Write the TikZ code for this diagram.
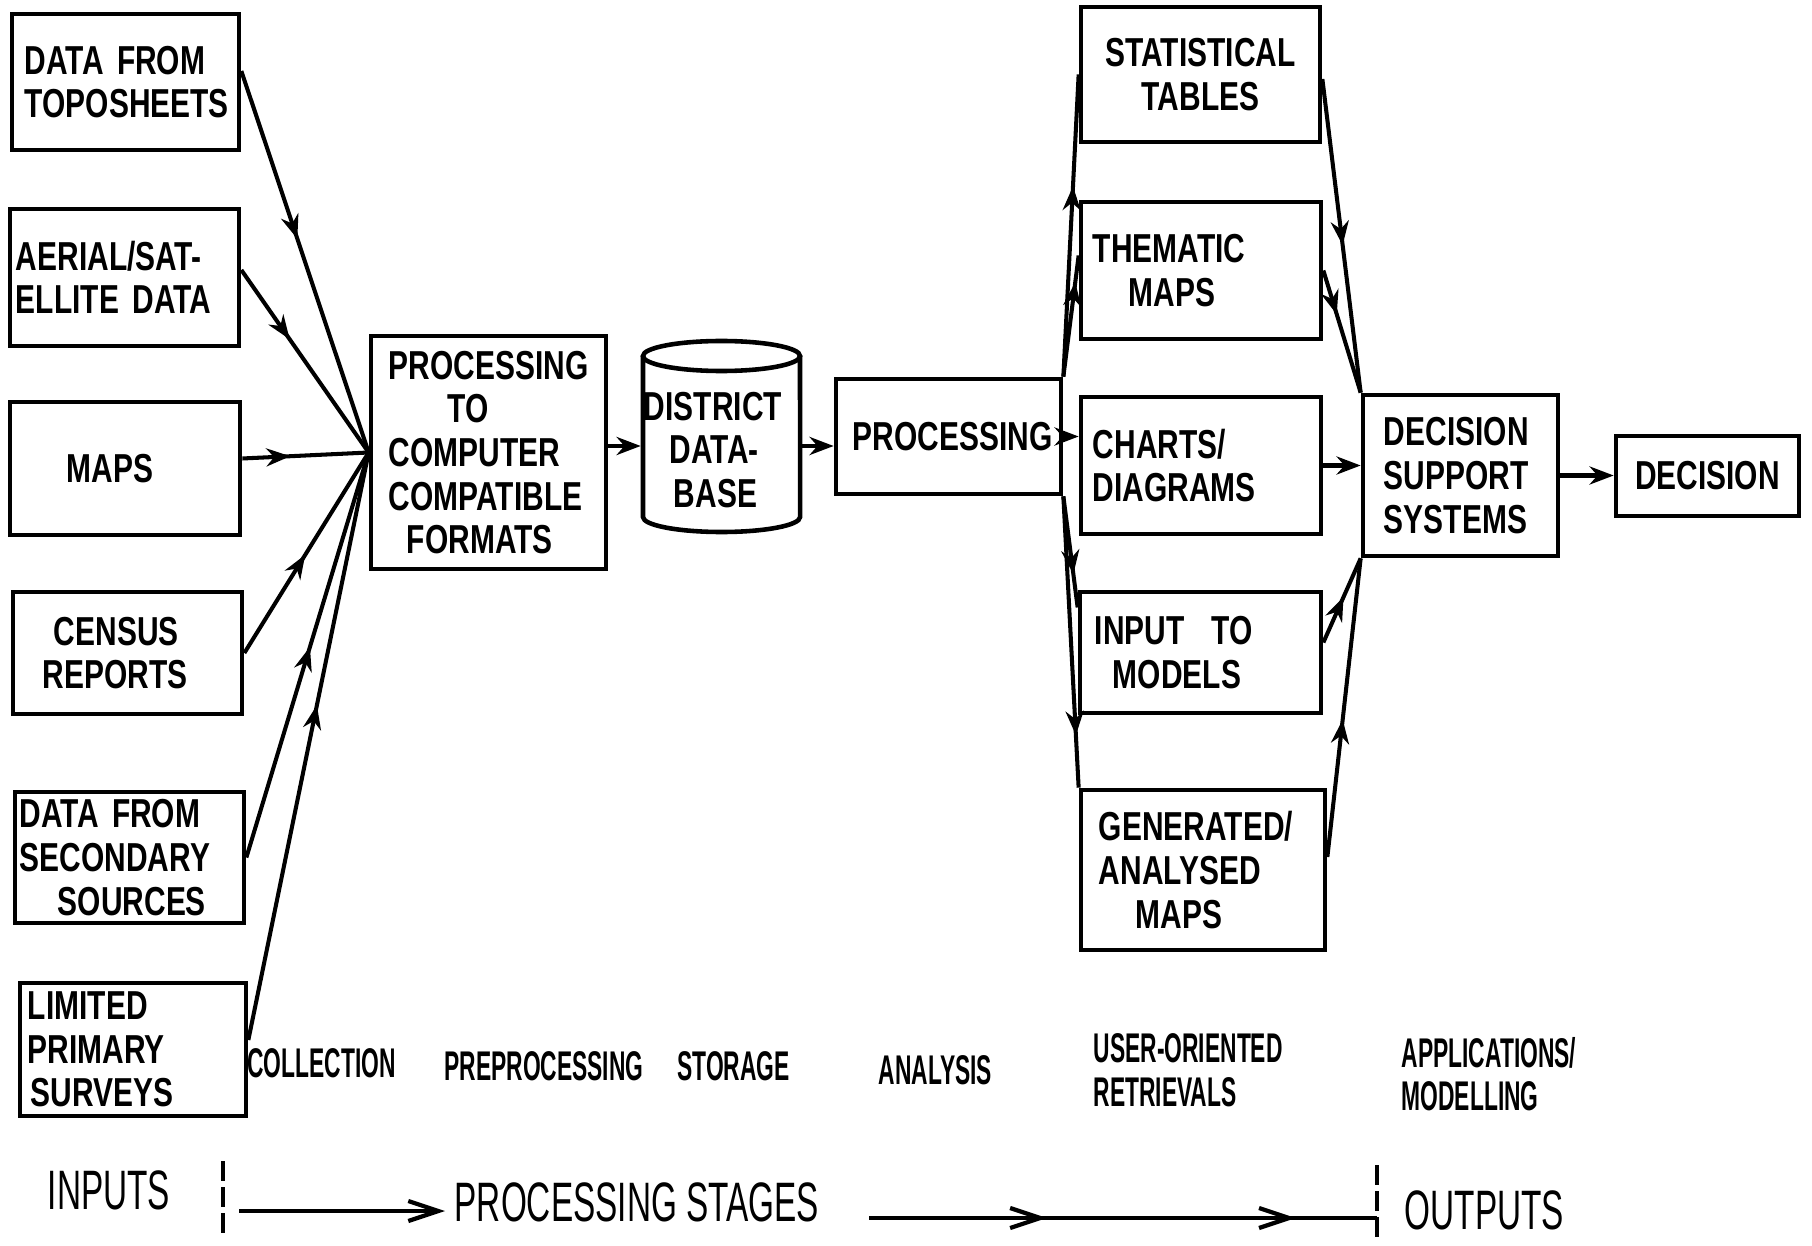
\documentclass[tikz,border=0pt]{standalone}
\usepackage{fontspec}
\setmainfont{Liberation Sans}[FakeStretch=0.74]
\newfontfamily\stagefont{Liberation Sans}[FakeStretch=0.55]
\newfontfamily\bigfont{Liberation Sans}[FakeStretch=0.6]
\usetikzlibrary{arrows.meta,decorations.markings}
\hyphenpenalty=10000
\exhyphenpenalty=10000
\begin{document}
\begin{tikzpicture}[x=0.01cm,y=-0.01cm,
  >={Stealth[length=2.4mm,width=1.8mm]},
  box/.style={draw, line width=1.3pt, inner xsep=0pt, inner ysep=0pt,
    font=\fontsize{11.5}{12.4}\selectfont\bfseries},
  bx/.style n args={3}{box, minimum width=#1, minimum height=#2, text width=#3, align=left},
  conn/.style={line width=1.15pt},
  midarr/.style={postaction={decorate,decoration={markings,mark=at position #1 with {\arrow{>}}}}},
  stage/.style={inner sep=0pt, font=\stagefont\fontsize{11.8}{12.4}\selectfont\bfseries},
  big/.style={inner sep=0pt, font=\bigfont\fontsize{15.8}{18}\selectfont},
  dashline/.style={line width=1.1pt, dash pattern=on 0.2cm off 0.06cm}
]
\useasboundingbox (0,0) rectangle (1812,1246);

% inputs
\node[bx={2.27cm}{1.36cm}{2.01cm}] (topo) at (125.5,82) {DATA~FROM\\TOPOSHEETS};
\node[bx={2.29cm}{1.37cm}{2.17cm}] (aerial) at (124.5,277.5) {AERIAL/SAT-\\ELLITE~DATA};
\node[bx={2.30cm}{1.33cm}{1.16cm}] (maps) at (125,468.5) {MAPS};
\node[bx={2.29cm}{1.22cm}{1.69cm}] (census) at (127.5,653) {\hspace*{0.11cm}CENSUS\\REPORTS};
\node[bx={2.29cm}{1.31cm}{2.19cm}] (second) at (129.5,857.5) {DATA~FROM\\SECONDARY\\\hspace*{0.38cm}SOURCES};
\node[bx={2.26cm}{1.33cm}{2.10cm}] (limited) at (133,1049.5) {LIMITED\\PRIMARY\\\hspace*{0.03cm}SURVEYS};

% preprocessing
\node[bx={2.35cm}{2.33cm}{1.99cm}] (proc) at (488.5,452.5) {PROCESSING\\\hspace*{0.59cm}TO\\COMPUTER\\COMPATIBLE\\\hspace*{0.18cm}FORMATS};

% database cylinder
\node[bx={1.57cm}{1.72cm}{1.55cm}, draw=none] (db) at (721.5,450) {DISTRICT\\\hspace*{0.26cm}DATA-\\\hspace*{0.30cm}BASE};
\draw[line width=1.3pt] (643,356) -- (643,517) arc[start angle=180,end angle=360,x radius=0.785cm,y radius=0.15cm] -- (800,356);
\draw[line width=1.3pt] (721.5,356) ellipse[x radius=0.785cm, y radius=0.15cm];

% processing
\node[bx={2.25cm}{1.15cm}{1.91cm}] (proc2) at (948.5,436.5) {PROCESSING};

% outputs
\node[box, minimum width=2.39cm, minimum height=1.35cm, align=center] (stat) at (1200.5,74.5) {STATISTICAL\\TABLES};
\node[bx={2.40cm}{1.37cm}{2.16cm}] (them) at (1201,270.5) {THEMATIC\\\hspace*{0.36cm}MAPS};
\node[bx={2.40cm}{1.37cm}{2.16cm}] (charts) at (1201,465.5) {CHARTS/\\DIAGRAMS};
\node[bx={2.41cm}{1.21cm}{2.11cm}] (input) at (1200.5,652.5) {INPUT~~TO\\\hspace*{0.18cm}MODELS};
\node[bx={2.44cm}{1.60cm}{2.08cm}] (gen) at (1203,870) {GENERATED/\\ANALYSED\\\hspace*{0.37cm}MAPS};
\node[bx={1.95cm}{1.61cm}{1.53cm}] (dss) at (1460.5,475.5) {DECISION\\SUPPORT\\SYSTEMS};
\node[box, minimum width=1.83cm, minimum height=0.80cm, align=center] (dec) at (1707.5,476) {DECISION};

% input connectors
\draw[conn, midarr=0.44] ([yshift=0.11cm]topo.east) -- (proc.west);
\draw[conn, midarr=0.38] ([yshift=0.075cm]aerial.east) -- (proc.west);
\draw[conn, midarr=0.38] ([yshift=0.1cm]maps.east) -- (proc.west);
\draw[conn, midarr=0.49] (census.east) -- (proc.west);
\draw[conn, midarr=0.52] (second.east) -- (proc.west);
\draw[conn, midarr=0.57] ([yshift=0.095cm]limited.east) -- (proc.west);

\draw[conn, ->] ([yshift=0.04cm]db.west -| proc.east) -- ([yshift=0.04cm]db.west);
\draw[conn, ->] ([yshift=0.04cm]db.east) -- ([yshift=0.04cm]db.east -| proc2.west);

% processing fan
\draw[conn, midarr=0.63] (proc2.north east) -- (stat.west);
\draw[conn, midarr=0.78] (proc2.north east) -- ([yshift=0.15cm]them.west);
\draw[conn, ->] (proc2.east) -- (proc2.east -| charts.west);
\draw[conn, midarr=0.7] (proc2.south east) -- ([yshift=0.45cm]input.west);
\draw[conn, midarr=0.82] (proc2.south east) -- (gen.north west);

% into DSS
\draw[conn, midarr=0.53] ([yshift=-0.045cm]stat.east) -- (dss.north west);
\draw[conn, midarr=0.36] (them.east) -- (dss.north west);
\draw[conn, ->] (charts.east) -- (charts.east -| dss.west);
\draw[conn, midarr=0.54] ([yshift=0.1cm]input.east) -- (dss.south west);
\draw[conn, midarr=0.46] ([yshift=0.13cm]gen.east) -- (dss.south west);
\draw[conn, ->] (dss.east) -- (dss.east -| dec.west);

% stage labels
\node[stage] (s1) at (321.5,1063) {COLLECTION};
\node[stage] (s2) at (544,1066) {PREPROCESSING};
\node[stage] (s3) at (733.5,1066) {STORAGE};
\node[stage] (s4) at (935.5,1070) {ANALYSIS};
\node[stage, anchor=west, align=left] (s5) at (1093,1070) {USER-ORIENTED\\RETRIEVALS};
\node[stage, anchor=west, align=left] (s6) at (1401,1074) {APPLICATIONS/\\MODELLING};

% bottom legend
\node[big] (lin) at (109,1190) {INPUTS};
\node[big, anchor=west] (lps) at (454,1202) {PROCESSING STAGES};
\node[big, anchor=west] (lout) at (1404,1210) {OUTPUTS};
\coordinate (d1a) at (223,1161); \coordinate (d1b) at (223,1237);
\coordinate (d2a) at (1377,1165); \coordinate (d2b) at (1377,1242);
\draw[dashline] (d1a) -- (d1b);
\draw[dashline] (d2a) -- (d2b);
\coordinate (b1) at (239,1211); \coordinate (b2) at (445,1211);
\coordinate (b3) at (869,1218); \coordinate (b4) at (1377,1218);
\draw[line width=1.2pt, -{Straight Barb[length=3mm,width=2mm]}] (b1) -- (b2);
\draw[line width=1.2pt, postaction={decorate,decoration={markings,
  mark=at position 0.35 with {\arrow{Straight Barb[length=3mm,width=2mm]}},
  mark=at position 0.84 with {\arrow{Straight Barb[length=3mm,width=2mm]}}}}] (b3) -- (b4);
\end{tikzpicture}
\end{document}
